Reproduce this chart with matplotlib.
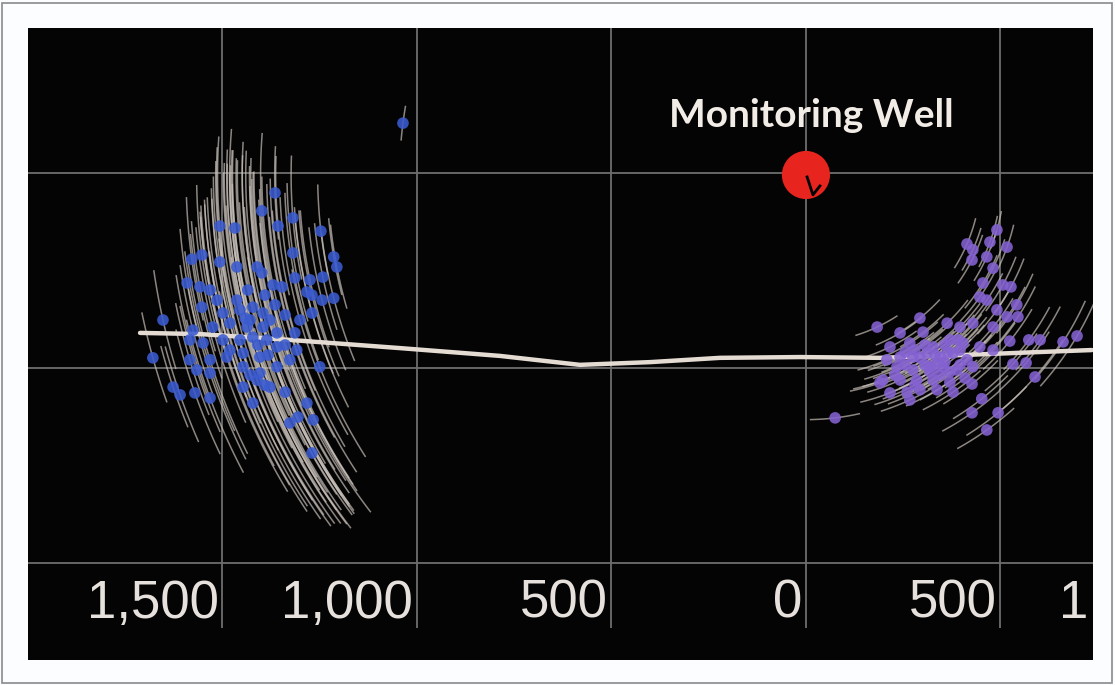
import numpy as np
import matplotlib.pyplot as plt
from matplotlib.collections import LineCollection
from matplotlib.patches import Rectangle

# well location (m) and the lateral of the treatment well
well_x = 0
well_y = 495
well_path_x = [3, 18, 36]
well_path_y = [490, 444, 467]

lateral_x = [-1712, -1558, -1327, -1044, -787, -581, -401, -221, -15, 190, 396, 602, 735]
lateral_y = [90, 87, 72, 51, 31, 8, 15, 26, 28, 26, 33, 41, 46]

# events of the first stage (m) and half length of their location arcs (m)
blue_x = [-1365, -1399, -1319, -1357, -1247, -1507, -1468, -1319, -1214, -1206,
          -1579, -1553, -1507, -1411, -1399, -1463, -1591, -1558, -1532, -1370,
          -1347, -1314, -1275, -1242, -1283, -1270, -1244, -1214, -1270, -1653,
          -1553, -1514, -1463, -1422, -1396, -1499, -1576, -1525, -1481, -1437,
          -1396, -1360, -1314, -1584, -1550, -1499, -1455, -1422, -1386, -1360,
          -1309, -1584, -1532, -1489, -1447, -1404, -1327, -1679, -1250, -1566,
          -1532, -1447, -1404, -1360, -1447, -1411, -1378, -1627, -1609, -1571,
          -1532, -1422, -1339, -1283, -1327, -1306, -1267, -1270, -1429, -1378,
          -1455, -1339, -1391, -1435, -1036, -1442, -1409, -1383, -1339, -1429,
          -1391, -1481, -1365, -1301]
blue_y = [449, 403, 385, 364, 351, 364, 359, 295, 285, 259,
          279, 290, 272, 259, 244, 259, 218, 208, 200, 213,
          208, 231, 226, 233, 195, 187, 174, 179, 141, 123,
          156, 174, 174, 156, 141, 141, 97, 105, 115, 105,
          105, 90, 90, 72, 64, 72, 72, 79, 72, 54,
          46, 21, 21, 28, 38, 28, 21, 26, 3, -5,
          -13, 3, -13, 3, -49, -31, -49, -49, -69, -64,
          -77, -90, -62, -90, -141, -126, -133, -218, 123, 123,
          149, 136, 187, 200, 628, 128, 59, 33, 59, -18,
          -44, 46, 162, 123]
blue_arc = [120, 200, 160, 180, 120, 230, 200, 180, 100, 110,
            160, 180, 220, 260, 260, 240, 140, 170, 190, 280,
            280, 220, 180, 140, 220, 220, 190, 170, 260, 130,
            190, 260, 330, 380, 420, 300, 170, 260, 350, 460,
            480, 420, 320, 170, 240, 350, 500, 540, 480, 420,
            350, 150, 260, 380, 500, 500, 360, 120, 260, 170,
            240, 440, 440, 420, 360, 420, 360, 110, 130, 170,
            210, 300, 360, 260, 260, 260, 280, 190, 440, 420,
            380, 340, 300, 340, 45, 400, 420, 400, 380, 360,
            340, 380, 300, 320]

# events of the second stage
purple_x = [491, 414, 429, 473, 517, 465, 427, 481, 455, 506,
            527, 447, 465, 542, 491, 517, 545, 293, 183, 242,
            301, 363, 396, 429, 481, 524, 573, 602, 661, 697,
            216, 267, 327, 370, 404, 447, 481, 208, 242, 275,
            311, 345, 378, 414, 532, 566, 234, 275, 319, 352,
            388, 429, 198, 242, 285, 327, 370, 427, 589, 190,
            216, 260, 293, 337, 378, 267, 452, 427, 494, 465,
            75, 332, 357, 306, 396, 345, 255, 280, 306, 319,
            357, 370, 396, 293, 332, 365, 391, 255, 229, 280,
            409]
purple_y = [354, 318, 303, 323, 310, 285, 277, 256, 218, 213,
            208, 182, 174, 162, 149, 131, 131, 128, 105, 90,
            92, 115, 105, 115, 105, 69, 72, 72, 67, 82,
            54, 64, 54, 72, 64, 54, 46, 21, 28, 28,
            38, 28, 38, 21, 10, 13, 3, -5, 3, 3,
            -5, 3, -31, -31, -31, -31, -36, -41, -23, -38,
            -64, -62, -56, -56, -62, -82, -79, -115, -115, -159,
            -128, 33, 59, 8, 46, -18, 8, 46, 59, -10,
            15, -10, 8, 26, 8, 41, 72, 41, -18, -44,
            -26]
purple_arc = [50, 70, 60, 70, 60, 70, 70, 80, 80, 80,
              80, 80, 80, 90, 80, 90, 90, 70, 60, 70,
              70, 80, 80, 80, 90, 100, 100, 100, 120, 160,
              80, 90, 90, 90, 90, 90, 90, 80, 90, 90,
              90, 90, 90, 90, 100, 100, 90, 90, 90, 90,
              90, 90, 80, 90, 90, 90, 90, 90, 120, 80,
              80, 90, 90, 90, 90, 80, 90, 90, 100, 90,
              65, 90, 90, 90, 90, 90, 90, 90, 90, 90,
              90, 90, 90, 90, 90, 90, 90, 90, 90, 90,
              90]

tick_values = [-1500, -1000, -500, 0, 500, 1000]
tick_labels = ["1,500", "1,000", "500", "0", "500", "1,000"]
grid_y = [500, 0, -500]


def arcs(xs, ys, half):
    # arcs of constant distance from the monitoring well through each event
    segs = []
    for x, y, h in zip(xs, ys, half):
        r = np.hypot(x - well_x, y - well_y)
        t0 = np.arctan2(y - well_y, x - well_x)
        dt = h / r
        t = np.linspace(t0 - dt, t0 + dt, 40)
        segs.append(np.column_stack([well_x + r*np.cos(t), well_y + r*np.sin(t)]))
    return segs
#end def


fig = plt.figure(figsize=(11.15, 6.85), dpi=100, facecolor="#fcfdff")
fig.patches.append(Rectangle((0.002, 0.003), 0.995, 0.993, transform=fig.transFigure,
                             fill=False, edgecolor="#8a8a8a", lw=1.2))

ax = fig.add_axes([28/1115, 25/685, 1065/1115, 632/685])
ax.set_facecolor("#050404")
ax.set_xlim(-2000, 738)
ax.set_ylim(-749, 872)
ax.set_xticks([])
ax.set_yticks([])
for s in ax.spines.values():
    s.set_visible(False)

grid_col = "#6e6e6e"
ax.vlines(tick_values, -667, 872, colors=grid_col, lw=1.3, zorder=1)
ax.hlines(grid_y, -2000, 738, colors=grid_col, lw=1.3, zorder=1)

arc_col = (0.80, 0.77, 0.74, 0.68)
ax.add_collection(LineCollection(arcs(blue_x, blue_y, blue_arc), colors=[arc_col], lw=1.1, zorder=2))
ax.add_collection(LineCollection(arcs(purple_x, purple_y, purple_arc), colors=[arc_col], lw=1.1, zorder=2))

ax.plot(lateral_x, lateral_y, color="#e4dbd3", lw=3.2, solid_capstyle="round", zorder=3)

ax.scatter(blue_x, blue_y, s=70, color="#3a5bd0", edgecolors="none", alpha=0.88, zorder=4)
ax.scatter(purple_x, purple_y, s=70, color="#8462d2", edgecolors="none", alpha=0.88, zorder=4)

# monitoring well
ax.scatter([well_x], [well_y], s=1200, color="#e8241e", edgecolors="none", zorder=5)
ax.plot(well_path_x, well_path_y, color="black", lw=2, zorder=6)
ax.text(13, 618, "Monitoring Well", color="#f2ece6", fontsize=28, fontweight="bold",
        family=["Lato", "DejaVu Sans"], ha="center", va="baseline", zorder=6)

for v, lab in zip(tick_values, tick_labels):
    ax.text(v - 10, -641, lab, color="#e6e1dc", fontsize=38,
            family=["Liberation Sans Narrow", "Liberation Sans", "DejaVu Sans"],
            ha="right", va="baseline", clip_on=True, zorder=6)
#end for

fig.savefig("out.png", format="png", dpi=100, facecolor=fig.get_facecolor())
